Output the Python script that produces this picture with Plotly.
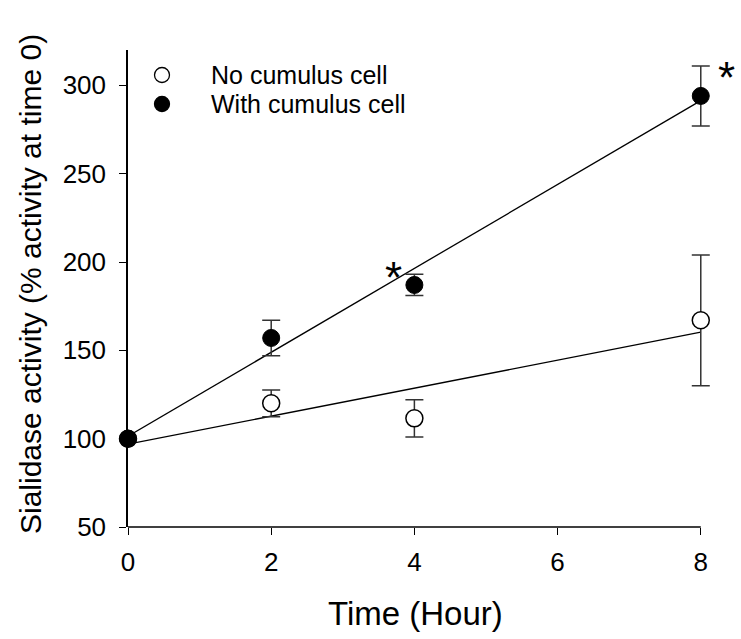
import numpy as np
import plotly.graph_objects as go

time_h = [0, 2, 4, 8]
no_cumulus = [100, 120, 111.5, 167]
no_cumulus_err = [0, 7.6, 10.5, 37]
with_cumulus = [100, 157, 187, 294]
with_cumulus_err = [0, 10, 6, 17]
x_ticks = [0, 2, 4, 6, 8]
y_ticks = [50, 100, 150, 200, 250, 300]
star_x = [3.71, 8.36]
star_y = [194, 307]

FONT = "Liberation Sans, Arial, sans-serif"
X_MAX = 8.45
PLOT_W = round(573 * X_MAX / 8)
PLOT_H = 477


def px_x(p):
    return (p - 128) / PLOT_W


def px_y(p):
    return 1 - (p - 50) / PLOT_H


fig = go.Figure()

xs = np.array([0, 8])
for ys in (no_cumulus, with_cumulus):
    slope, inter = np.polyfit(time_h, ys, 1)
    fig.add_trace(go.Scatter(x=xs, y=slope * xs + inter, mode="lines",
                             line=dict(color="black", width=1.3),
                             showlegend=False, hoverinfo="skip", cliponaxis=False))

fig.add_trace(go.Scatter(
    x=time_h, y=no_cumulus, mode="markers", name="No cumulus cell",
    marker=dict(symbol="circle", size=17, color="white", line=dict(color="black", width=1.5)),
    error_y=dict(type="data", array=no_cumulus_err, color="#333333", thickness=1.5, width=9),
    cliponaxis=False, showlegend=False))
fig.add_trace(go.Scatter(
    x=time_h, y=with_cumulus, mode="markers", name="With cumulus cell",
    marker=dict(symbol="circle", size=17, color="black", line=dict(color="black", width=1)),
    error_y=dict(type="data", array=with_cumulus_err, color="#333333", thickness=1.5, width=9),
    cliponaxis=False, showlegend=False))

for sx, sy in zip(star_x, star_y):
    fig.add_annotation(x=sx, y=sy, xref="x", yref="y", text="*", showarrow=False,
                       xanchor="center", yanchor="middle", yshift=-5,
                       font=dict(family=FONT, size=44, color="black"))

# legend (manual)
legend_items = [("No cumulus cell", "white"), ("With cumulus cell", "black")]
for i, (label, fill) in enumerate(legend_items):
    yp = px_y(75 + i * 29)
    fig.add_shape(type="circle", xref="paper", yref="paper",
                  xsizemode="pixel", ysizemode="pixel",
                  xanchor=px_x(162), yanchor=yp, x0=-7.5, x1=7.5, y0=-7.5, y1=7.5,
                  fillcolor=fill, line=dict(color="black", width=1.3))
    fig.add_annotation(xref="paper", yref="paper", x=px_x(209), y=yp,
                       text=label, showarrow=False, xanchor="left", yanchor="middle",
                       font=dict(family=FONT, size=25, color="black"))

# axis titles
fig.add_annotation(xref="paper", yref="paper", x=px_x(415), y=px_y(613),
                   text="Time (Hour)", showarrow=False, xanchor="center", yanchor="middle",
                   font=dict(family=FONT, size=33, color="black"))
fig.add_annotation(xref="paper", yref="paper", x=px_x(30), y=px_y(284),
                   text="Sialidase activity (% activity at time 0)", showarrow=False,
                   textangle=-90, xanchor="center", yanchor="middle",
                   font=dict(family=FONT, size=30, color="black"))

# x axis line only up to 8
fig.add_shape(type="line", xref="x", yref="paper", x0=0, x1=8, y0=0, y1=0,
              line=dict(color="black", width=1.5))

axis_common = dict(ticks="outside", ticklen=7, tickwidth=1.2, tickcolor="black",
                   showgrid=False, zeroline=False,
                   tickfont=dict(family=FONT, size=26, color="black"))

fig.update_layout(
    width=741, height=639,
    margin=dict(l=128, r=741 - 128 - PLOT_W, t=50, b=112),
    paper_bgcolor="white", plot_bgcolor="white",
    xaxis=dict(range=[0, X_MAX], tickvals=x_ticks, showline=False, ticklabelstandoff=5,
               **axis_common),
    yaxis=dict(range=[50, 320], tickvals=y_ticks, showline=True, linecolor="black", linewidth=1.5,
               ticklabelstandoff=8, **axis_common),
)

fig.write_html("out.html")
